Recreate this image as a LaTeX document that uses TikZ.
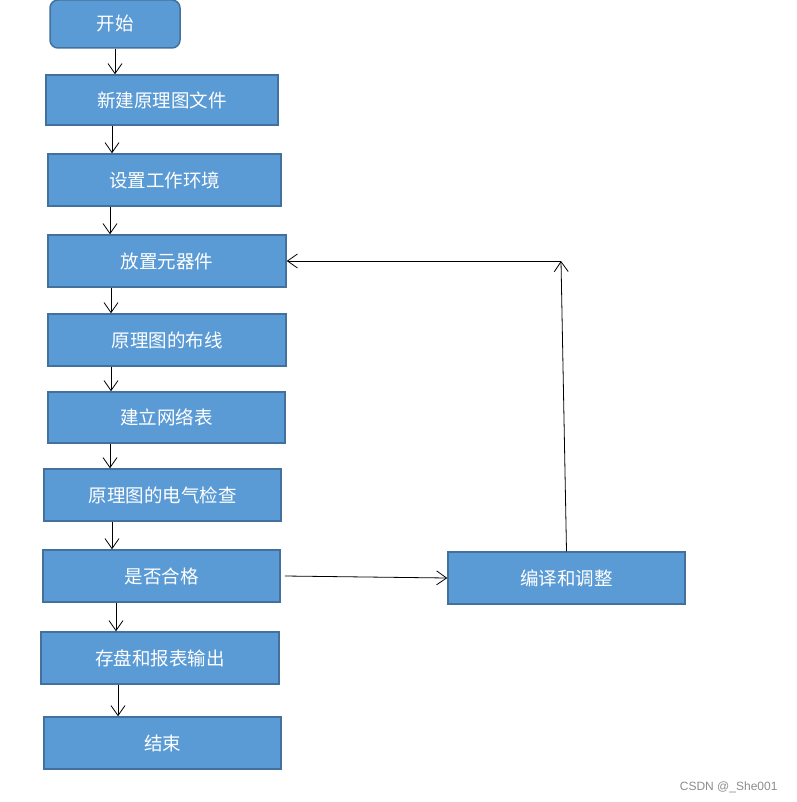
\documentclass[tikz,border=0pt]{standalone}
\usepackage{fontspec}
\usetikzlibrary{arrows.meta}
\newfontfamily\cjk{Noto Sans CJK SC}
\newfontfamily\wmfont{Liberation Sans}
\definecolor{boxfill}{HTML}{5B9BD5}
\definecolor{boxline}{HTML}{41719C}

\begin{document}
\begin{tikzpicture}[x=1pt, y=-1pt]
    \useasboundingbox (0,0) rectangle (796,802);
    \tikzset{box/.style={draw=boxline, fill=boxfill, line width=1.5pt,
        minimum width=237pt, minimum height=52pt, inner sep=0pt,
        text=white, font=\cjk\fontsize{18.5}{22}\selectfont}}
    \tikzset{arr/.style={-{Straight Barb[length=10pt, width=14pt]}, line width=0.8pt, black}}

    \node[box, rounded corners=8pt, minimum width=130pt, minimum height=48pt] (Start) at (115,24) {开始};
    \node[box, minimum width=232pt, minimum height=50pt] (New) at (162,100) {新建原理图文件};
    \node[box, minimum width=233pt] (Env) at (164.5,180) {设置工作环境};
    \node[box, minimum width=238pt] (Place) at (167,261) {放置元器件};
    \node[box, minimum width=238pt] (Wire) at (167,340) {原理图的布线};
    \node[box, minimum height=51pt] (Net) at (166.5,417.5) {建立网络表};
    \node[box] (Check) at (162.5,495) {原理图的电气检查};
    \node[box] (Ok) at (161.5,576) {是否合格};
    \node[box, minimum width=238pt] (Save) at (160,658) {存盘和报表输出};
    \node[box] (End) at (162.5,743) {结束};
    \node[box] (Fix) at (566.5,578) {编译和调整};
    \coordinate (Turn) at (561,261);

    % main line
    \draw[arr] (Start.south) -- (New.north -| Start.south);
    \draw[arr] (New.south -| 112,0) -- (Env.north -| 112,0);
    \draw[arr] (Env.south -| 110,0) -- (Place.north -| 110,0);
    \draw[arr] (Place.south -| 111,0) -- (Wire.north -| 111,0);
    \draw[arr] (Wire.south -| 111,0) -- (Net.north -| 111,0);
    \draw[arr] (Net.south -| 110,0) -- (Check.north -| 110,0);
    \draw[arr] (Check.south -| 112,0) -- (Ok.north -| 112,0);
    \draw[arr] (Ok.south -| 116,0) -- (Save.north -| 116,0);
    \draw[arr] (Save.south -| 118,0) -- (End.north -| 118,0);

    % loop back
    \draw[arr] ([xshift=4pt]Ok.east) -- (Fix.west);
    \draw[arr] (Fix.north) -- (Turn);
    \draw[arr] (Turn) -- (Place.east);

    \node[text=black!45, font=\wmfont\fontsize{12}{14}\selectfont, anchor=east] (Mark) at (781,787) {CSDN @\_She001};
\end{tikzpicture}
\end{document}
